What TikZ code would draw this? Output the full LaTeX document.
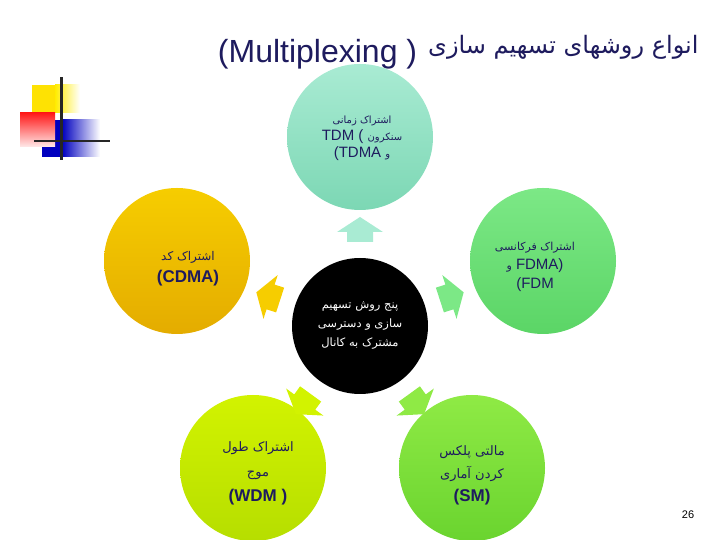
\documentclass[tikz,border=0pt]{standalone}
\usepackage{fontspec}
\setmainfont{Liberation Sans}
\newfontfamily\arabicfont[Script=Arabic]{DejaVu Sans}
\TeXXeTstate=1
\usetikzlibrary{positioning,calc}
\definecolor{slideNavy}{HTML}{1E1B5E}
\definecolor{tdmTop}{HTML}{A9EBD3}
\definecolor{tdmBot}{HTML}{7CD7B4}
\definecolor{cdmaTop}{HTML}{F6CD00}
\definecolor{cdmaBot}{HTML}{E4AC00}
\definecolor{fdmaTop}{HTML}{7CE886}
\definecolor{fdmaBot}{HTML}{5BD566}
\definecolor{wdmTop}{HTML}{D2F300}
\definecolor{wdmBot}{HTML}{B6DE00}
\definecolor{smTop}{HTML}{8FEA45}
\definecolor{smBot}{HTML}{6AD42F}
\newcommand{\fa}[1]{{\arabicfont\beginR #1\endR}}

\begin{document}
\begin{tikzpicture}[x=1pt, y=1pt,
    bubble/.style={circle, minimum size=146pt, inner sep=0pt, align=center, text=slideNavy, font=\fontsize{15}{17}\selectfont},
    hub/.style={circle, fill=black, minimum size=136pt, inner sep=0pt, align=center, text=white, font=\fontsize{11.5}{19}\selectfont}]
  \useasboundingbox (0,0) rectangle (720,540);
  \clip (0,0) rectangle (720,540);
  % corner ornament
  \fill[blue!75!black] (42,383) rectangle (62,420);
  \shade[left color=blue!75!black, right color=white] (62,383) rectangle (100,420);
  \fill[yellow!85!orange] (32,427) rectangle (55,455);
  \shade[left color=yellow!85!orange, right color=white] (55,427) rectangle (80,455);
  \shade[shading angle=45, top color=red!90, bottom color=red!8] (20,393) rectangle (55,427);
  \draw[line width=2.5pt, black!85] (61.5,380) -- (61.5,463);
  \draw[line width=2.5pt, black!85] (34,399) -- (110,399);
  % title
  \node[anchor=base east, text=slideNavy, font=\fontsize{24}{27}\selectfont] (titleFa) at (702,486) {\fa{انواع روشهای تسهیم سازی}};
  \node[anchor=base east, text=slideNavy, font=\fontsize{32}{36}\selectfont, left=4pt of titleFa.base west] (titleEn) {(Multiplexing )};
  % hub and outer circles
  \node[hub] (hub) at (360,214) {\fa{پنج روش تسهیم}\\ \fa{سازی و دسترسی}\\ \fa{مشترک به کانال}};
  \node[bubble, top color=tdmTop, bottom color=tdmBot] (tdm) at ($(hub)+(90:189)$) {};
  \node[bubble, top color=cdmaTop, bottom color=cdmaBot] (cdma) at (177,279) {};
  \node[bubble, top color=fdmaTop, bottom color=fdmaBot] (fdma) at (543,279) {};
  \node[bubble, top color=wdmTop, bottom color=wdmBot] (wdm) at (253,72) {};
  \node[bubble, top color=smTop, bottom color=smBot] (sm) at (472,72) {};
  % block arrows
  \foreach \ang/\col in {90/tdmTop, 162/cdmaTop, 18/fdmaTop, 234/wdmTop, 306/smTop} {
    \begin{scope}[shift={(360,214)}, rotate=\ang]
      \fill[\col] (84,-13) -- (94,-13) -- (94,-23) -- (109,0) -- (94,23) -- (94,13) -- (84,13) -- cycle;
    \end{scope}
  }
  % circle labels
  \node[align=center, text=slideNavy, font=\fontsize{15}{17}\selectfont] (tdmText) at (362,402)
    {{\fontsize{10}{12}\selectfont\fa{اشتراک زمانی}}\\ TDM ( {\fontsize{10}{12}\selectfont\fa{سنکرون}}\\ (TDMA {\fontsize{10}{12}\selectfont\fa{و}}};
  \node[align=center, text=slideNavy, font=\fontsize{17}{22}\selectfont\bfseries] (cdmaText) at (188,271)
    {{\fontsize{12}{14}\mdseries\selectfont\fa{اشتراک کد}}\\ (CDMA)};
  \node[align=center, text=slideNavy, font=\fontsize{15}{19}\selectfont] (fdmaText) at (535,273)
    {{\fontsize{11}{13}\selectfont\fa{اشتراک فرکانسی}}\\ {\fontsize{11}{13}\selectfont\fa{و}} FDMA)\\ (FDM};
  \node[align=center, text=slideNavy, font=\fontsize{17}{25}\selectfont\bfseries] (wdmText) at (258,67)
    {{\fontsize{13}{15}\mdseries\selectfont\fa{اشتراک طول}}\\ {\fontsize{13}{15}\mdseries\selectfont\fa{موج}}\\ (WDM )};
  \node[align=center, text=slideNavy, font=\fontsize{17}{23}\selectfont\bfseries] (smText) at (472,65)
    {{\fontsize{13}{15}\mdseries\selectfont\fa{مالتی پلکس}}\\ {\fontsize{13}{15}\mdseries\selectfont\fa{کردن آماری}}\\ (SM)};
  % page number
  \node[font=\fontsize{11}{13}\selectfont] (pageNo) at (688,25) {26};
\end{tikzpicture}
\end{document}
